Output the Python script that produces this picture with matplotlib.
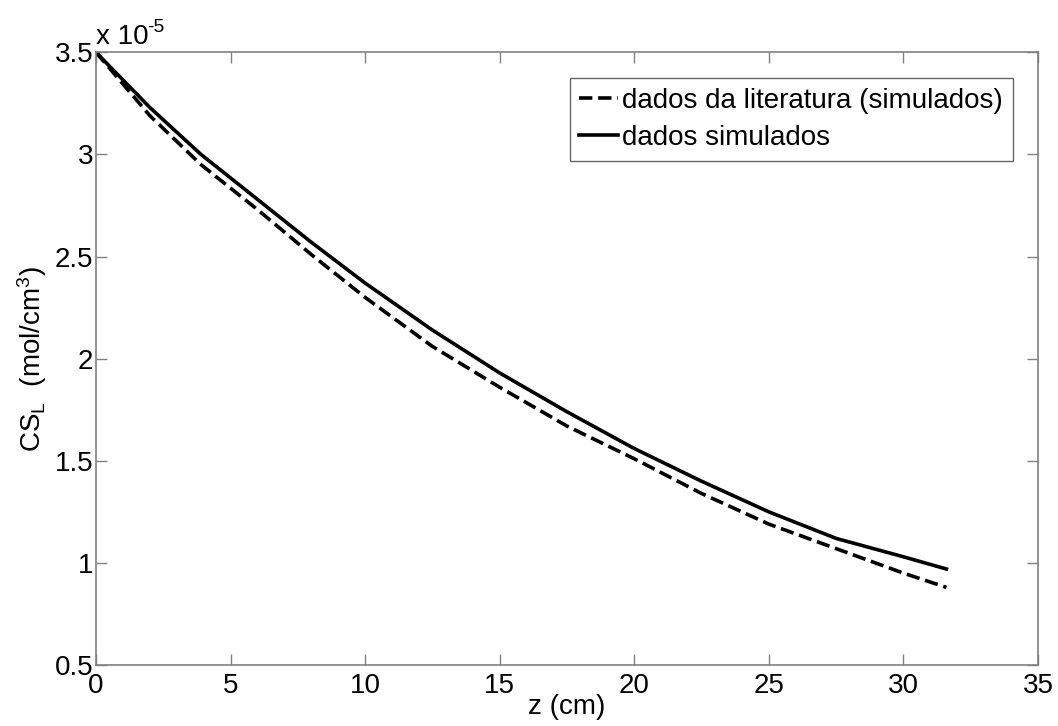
import numpy as np
import matplotlib
matplotlib.use('Agg')
import matplotlib.pyplot as plt

plt.rcParams['font.family'] = ['Liberation Sans', 'DejaVu Sans']
plt.rcParams['mathtext.default'] = 'regular'

# posicao axial (cm) e concentracao (x 1e-5 mol/cm3)
z = [0, 2, 3.9, 6, 8, 10, 12.5, 15, 17.5, 20, 22.5, 25, 27.5, 30, 31.6]
cs_literatura = [3.50, 3.19, 2.95, 2.73, 2.51, 2.30, 2.06, 1.86, 1.67, 1.51, 1.34, 1.19, 1.07, 0.95, 0.88]
cs_simulado = [3.50, 3.23, 3.00, 2.78, 2.57, 2.37, 2.14, 1.93, 1.74, 1.56, 1.40, 1.25, 1.12, 1.03, 0.97]

xticks = [0, 5, 10, 15, 20, 25, 30, 35]
yticks = [0.5, 1, 1.5, 2, 2.5, 3, 3.5]

fig = plt.figure(figsize=(10.58, 7.26), dpi=100)
ax = fig.add_axes([0.0907, 0.084, 0.8903, 0.844])

ax.plot(z, cs_literatura, 'k--', lw=2.6, label='dados da literatura (simulados)')
ax.plot(z, cs_simulado, 'k-', lw=2.6, label='dados simulados')

ax.set_xlim(0, 35)
ax.set_ylim(0.5, 3.5)
ax.set_xticks(xticks)
ax.set_yticks(yticks)
ax.set_xticklabels([str(t) for t in xticks])
ax.set_yticklabels(['0.5', '1', '1.5', '2', '2.5', '3', '3.5'])
ax.tick_params(direction='in', top=True, right=True, length=8, width=1,
               color='#808080', labelsize=20, pad=2)
ax.tick_params(axis='x', pad=6)
for s in ax.spines.values():
    s.set_color('#808080')
    s.set_linewidth(1.2)

ax.set_xlabel('z (cm)', fontsize=20, labelpad=-4)
ax.set_ylabel('CS$_L$  (mol/cm$^3$)', fontsize=20, labelpad=4)
# fator de escala estilo matlab
ax.text(0.0, 1.004, 'x 10', transform=ax.transAxes, fontsize=20,
        ha='left', va='bottom')
ax.annotate('-5', xy=(0.0, 1.004), xycoords='axes fraction', xytext=(37, 10),
            textcoords='offset points', fontsize=14, ha='left', va='bottom')

leg = ax.legend(loc='upper right', bbox_to_anchor=(0.9735, 0.9576), fontsize=20,
                frameon=True, fancybox=False, handlelength=1.4, handletextpad=0.15,
                borderpad=0.35, labelspacing=0.4, borderaxespad=0)
leg.get_frame().set_edgecolor('#404040')
leg.get_frame().set_linewidth(1.0)

fig.savefig('out.png', dpi=100)
